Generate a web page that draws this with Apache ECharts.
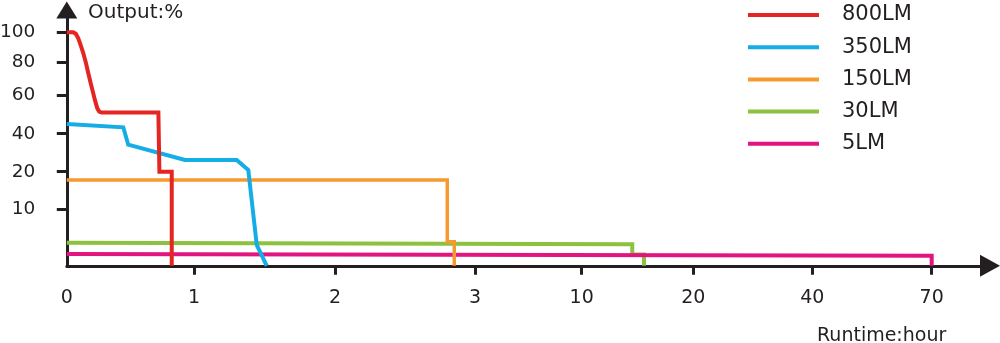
<!DOCTYPE html>
<html>
<head>
<meta charset="utf-8">
<script src="https://cdn.jsdelivr.net/npm/echarts@6/dist/echarts.min.js"></script>
<style>
html,body{margin:0;padding:0;background:#fff;}
#chart{width:1000px;height:343px;}
</style>
</head>
<body>
<div id="chart"></div>
<script>
// ---- data (real units: hours, % output) ----
const xTickHours = [0, 1, 2, 3, 10, 20, 40, 70];
const yTickPct = [10, 20, 40, 60, 80, 100];
const seriesNames = ['800LM', '350LM', '150LM', '30LM', '5LM'];

const hours800 = [0, 0.051, 0.072, 0.09, 0.109, 0.13, 0.151, 0.169, 0.188, 0.208, 0.224, 0.24, 0.255, 0.274, 0.72, 0.728, 0.825, 0.825];
const pct800   = [100, 100, 98.9, 96, 91.5, 86, 79.4, 73.3, 67.2, 61, 56.7, 53.1, 51.4, 50.9, 50.9, 20, 20, 0];

const hours350 = [0, 0.444, 0.483, 0.929, 1.303, 1.385, 1.409, 1.445, 1.516];
const pct350   = [45, 43.3, 34.2, 26.2, 26.2, 20.9, 12.5, 3.7, 0];

const hours150 = [0, 2.802, 2.802, 2.852, 2.852];
const pct150   = [17.8, 17.8, 4.27, 4.27, 0];

const hours30 = [0, 14.53, 14.53, 15.58, 15.58];
const pct30   = [4.1, 3.8, 2.0, 2.0, 0];

const hours5 = [0, 70, 70];
const pct5   = [2.09, 1.79, 0];

// ---- axis scale layout (piecewise axis of the original drawing) ----
const xScaleIn  = [0, 1, 2, 3, 10, 20, 40, 70];
const xScaleOut = [0, 127.2, 268.2, 408.2, 514.9, 626.5, 745.5, 864.9];
const yScaleIn  = [0, 10, 20, 40, 60, 80, 100];
const yScaleOut = [0, 56.5, 94.1, 132.1, 170.8, 203.5, 233.5];

function piece(v, inArr, outArr) {
  for (let i = 0; i < inArr.length - 1; i++) {
    if (v <= inArr[i + 1] || i === inArr.length - 2) {
      const t = (v - inArr[i]) / (inArr[i + 1] - inArr[i]);
      return outArr[i] + t * (outArr[i + 1] - outArr[i]);
    }
  }
  return outArr[outArr.length - 1];
}
const sx = h => piece(h, xScaleIn, xScaleOut);
const sy = p => piece(p, yScaleIn, yScaleOut);
function pts(hs, ps) { return hs.map((h, i) => [sx(h), sy(ps[i])]); }

const colors = ['#e52521', '#14ade6', '#f59a2f', '#8cc23f', '#e2147f'];
const dataSets = [[hours800, pct800], [hours350, pct350], [hours150, pct150], [hours30, pct30], [hours5, pct5]];
const widths = [4, 4, 3.5, 4, 4];
const zs = [6, 5, 4, 3, 3];

const xLabelMap = {};
xTickHours.forEach(h => { xLabelMap[sx(h).toFixed(2)] = String(h); });
const yLabelMap = {};
yTickPct.forEach(p => { yLabelMap[sy(p).toFixed(2)] = String(p); });

const FONT = 'DejaVu Sans';
const INK = '#231f20';

const chart = echarts.init(document.getElementById('chart'), null, {renderer: 'canvas'});
chart.setOption({
  animation: false,
  backgroundColor: '#fff',
  color: colors,
  grid: {left: 66.8, right: 10, top: 10, bottom: 77.2, containLabel: false, outerBoundsMode: 'none'},
  legend: {
    orient: 'vertical',
    left: 748,
    top: 4.5,
    padding: 0,
    icon: 'rect',
    itemWidth: 71,
    itemHeight: 4,
    itemGap: 11.2,
    data: seriesNames,
    textStyle: {fontFamily: FONT, fontSize: 21, color: INK, padding: [0, 0, 0, 18]}
  },
  xAxis: {
    type: 'value',
    min: 0,
    max: 923.2,
    splitLine: {show: false},
    axisLine: {show: true, lineStyle: {color: INK, width: 3}, symbol: ['none', 'triangle'], symbolSize: [22, 20]},
    axisTick: {show: true, length: 9, lineStyle: {color: INK, width: 3}, customValues: xTickHours.slice(1).map(sx)},
    axisLabel: {
      customValues: xTickHours.map(sx),
      margin: 23,
      fontFamily: FONT, fontSize: 19, color: INK,
      formatter: v => xLabelMap[Number(v).toFixed(2)] || ''
    }
  },
  yAxis: {
    type: 'value',
    min: 0,
    max: 255.8,
    splitLine: {show: false},
    axisLine: {show: true, lineStyle: {color: INK, width: 3}, symbol: ['none', 'triangle'], symbolSize: [21, 17]},
    axisTick: {show: true, length: 10, lineStyle: {color: INK, width: 3}, customValues: yTickPct.map(sy)},
    axisLabel: {
      customValues: yTickPct.map(sy),
      margin: 31.5,
      fontFamily: FONT, fontSize: 18.5, color: INK,
      formatter: v => yLabelMap[Number(v).toFixed(2)] || ''
    }
  },
  graphic: [
    {type: 'text', left: 88, top: 3, style: {text: 'Output:%', fontFamily: FONT, fontSize: 20, fill: INK}},
    {type: 'text', left: 817, top: 327, style: {text: 'Runtime:hour', fontFamily: FONT, fontSize: 19, fill: INK}}
  ],
  series: seriesNames.map((name, i) => ({
    name: name,
    type: 'line',
    z: zs[i],
    symbol: 'none',
    showSymbol: false,
    clip: false,
    data: pts(dataSets[i][0], dataSets[i][1]),
    lineStyle: {color: colors[i], width: widths[i], join: 'miter'},
    itemStyle: {color: colors[i]}
  }))
});
</script>
</body>
</html>
